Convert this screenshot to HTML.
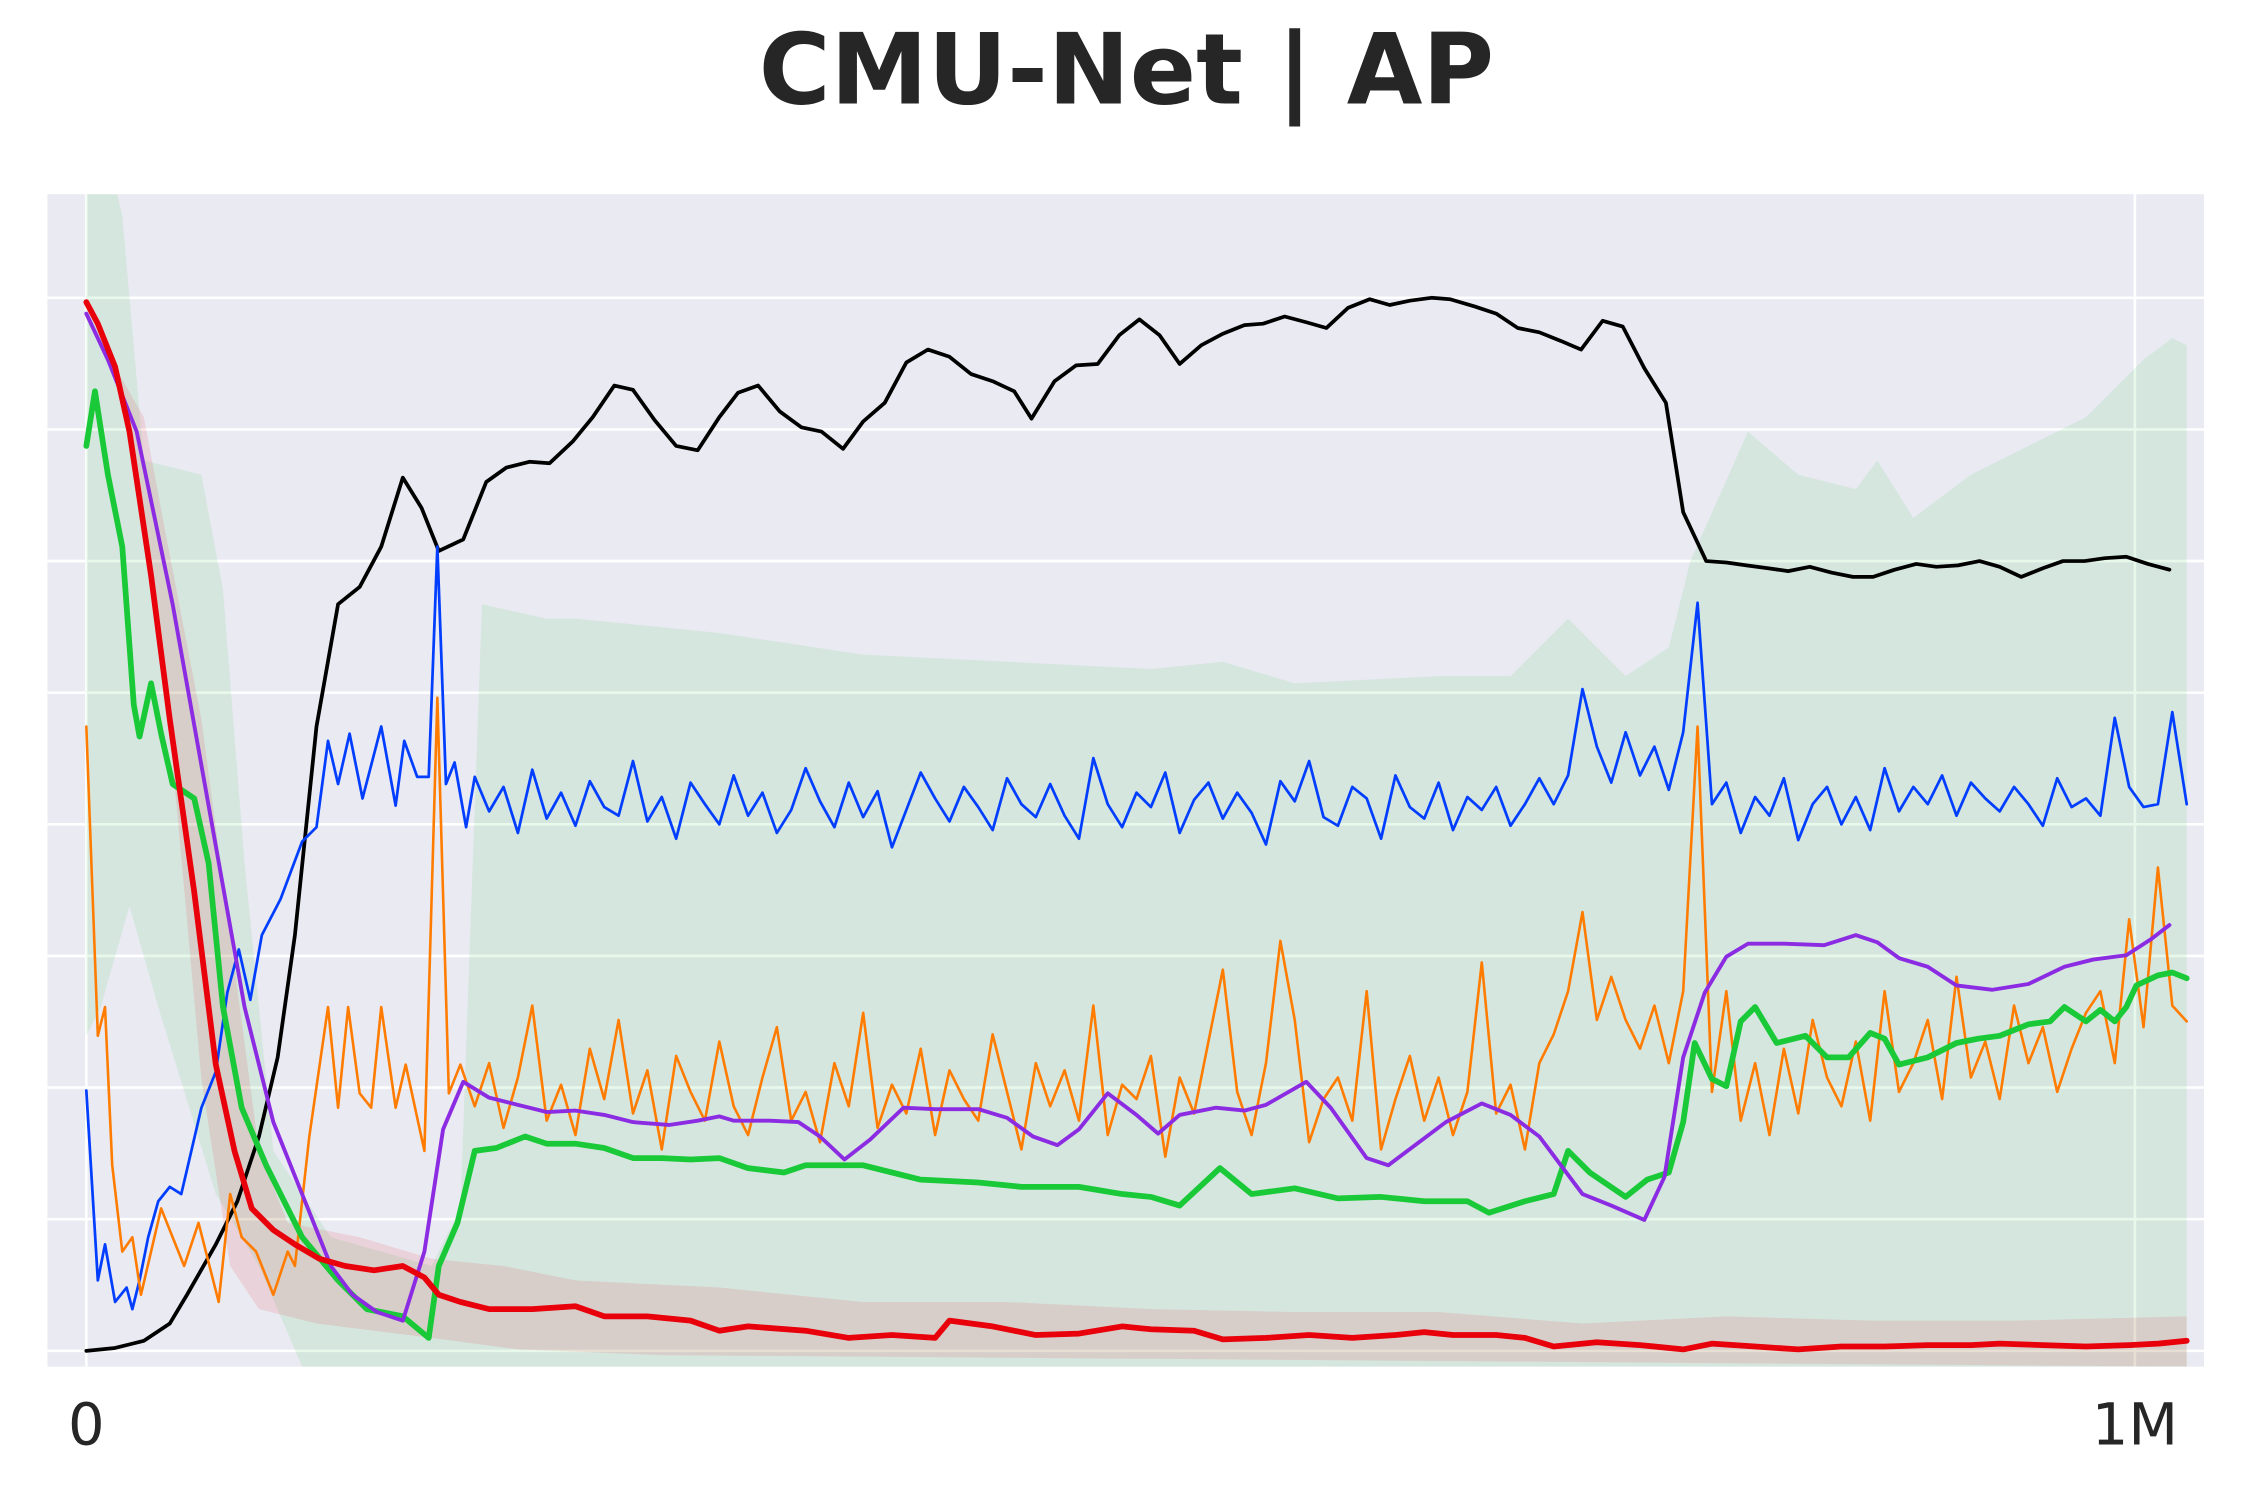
<!DOCTYPE html>
<html><head><meta charset="utf-8">
<style>
html,body{margin:0;padding:0;background:#fff;}
svg{display:block;}
</style></head>
<body>
<svg id="chart" width="2250" height="1500" viewBox="0 0 1564 1042.67" xmlns="http://www.w3.org/2000/svg">
<text x="783" y="72" text-anchor="middle" font-family="'DejaVu Sans','Liberation Sans',sans-serif" font-weight="bold" font-size="68" fill="#262626">CMU-Net | AP</text>
<rect x="33" y="135" width="1499" height="815" fill="#eaeaf2"/>
<defs><clipPath id="clip"><rect x="33" y="135" width="1499" height="815"/></clipPath></defs>
<g id="grid"></g>
<g id="bands" clip-path="url(#clip)"></g>
<g id="lines" clip-path="url(#clip)"></g>
<g id="ticks"></g>
</svg>
<script>
const xTicks = [0, 1424];
const xTickLabels = ["0", "1M"];
const yGrid = [0, 91.5, 183, 274.5, 366, 457.5, 549, 640.5, 732];

const blackX = [0,20,40,58,70,90,105,120,133,145,160,175,190,205,220,233,245,262,278,292,308,322,338,352,367,380,395,410,425,440,453,467,482,497,511,526,540,555,570,585,600,615,630,645,657,673,688,703,718,732,746,760,775,790,805,818,833,848,862,877,892,906,920,935,948,965,980,995,1010,1025,1039,1054,1068,1083,1098,1110,1126,1140,1154,1169,1183,1198,1213,1228,1242,1257,1272,1286,1301,1316,1330,1345,1360,1374,1389,1403,1418,1433,1448];
const blackV = [0,2,7,19,39,74,104,149,204,289,434,519,531,559,607,586,556,564,604,614,618,617,632,649,671,668,647,629,626,649,666,671,653,642,639,627,646,659,687,696,691,679,674,667,648,674,685,686,706,717,706,686,699,707,713,714,719,715,711,725,731,727,730,732,731,726,721,711,708,702,696,716,712,683,659,583,549,548,546,544,542,545,541,538,538,543,547,545,546,549,545,538,544,549,549,551,552,547,543];

const greenX = [0,6,15,25,33,37,45,52,60,75,85,95,108,125,150,175,195,220,238,245,258,270,285,305,320,340,360,380,400,420,440,460,485,500,540,580,620,650,690,720,740,760,788,810,840,870,900,930,960,975,1000,1020,1030,1045,1070,1085,1100,1110,1118,1130,1140,1150,1160,1175,1195,1210,1225,1240,1250,1260,1280,1300,1315,1330,1350,1365,1375,1390,1400,1410,1418,1425,1440,1450,1460];
const greenV = [629,667,609,559,449,427,464,429,394,384,339,239,169,129,79,49,29,24,9,59,89,139,141,149,144,144,141,134,134,133,134,127,124,129,129,119,117,114,114,109,107,101,127,109,113,106,107,104,104,96,104,109,139,124,107,119,124,159,214,189,184,229,239,214,219,204,204,221,217,199,204,214,217,219,227,229,239,229,237,229,239,254,261,263,259];

const redX = [0,8,20,30,45,58,75,90,103,115,130,145,162,180,200,220,235,245,260,280,310,340,360,390,420,440,460,500,530,560,590,600,630,660,690,720,740,770,790,820,850,880,910,930,950,980,1000,1020,1050,1080,1110,1130,1160,1190,1220,1250,1280,1310,1330,1360,1390,1420,1440,1460];
const redV = [729,714,684,639,539,439,319,199,139,99,84,74,64,59,56,59,51,39,34,29,29,31,24,24,21,14,17,14,9,11,9,21,17,11,12,17,15,14,8,9,11,9,11,13,11,11,9,3,6,4,1,5,3,1,3,3,4,4,5,4,3,4,5,7];

const purpleX = [0,15,35,60,85,110,130,150,170,185,202,220,235,248,262,280,300,320,340,360,380,405,425,440,450,475,495,510,527,545,568,590,620,640,658,675,690,710,730,745,760,785,805,820,848,865,890,905,925,945,970,990,1010,1025,1040,1060,1083,1097,1110,1125,1140,1155,1180,1208,1230,1245,1260,1280,1300,1325,1350,1375,1395,1418,1435,1448];
const purpleV = [721,689,639,519,379,239,159,109,59,39,27,21,69,154,187,176,171,166,167,164,159,157,160,163,160,160,159,149,133,147,169,168,168,162,149,143,154,179,164,151,164,169,167,171,187,169,134,129,144,159,172,164,149,129,109,101,91,121,204,249,274,283,283,282,289,284,273,267,254,251,255,267,272,275,286,296];

const blueEarlyX = [0,8,13,20,28,32,37,43,50,58,66,73,80,90,98,106,114,122,135,150,160,168,175,183,192,205,215,221,230,238,244,250,256,264];
const blueEarlyV = [181,49,74,34,44,29,49,79,104,114,109,139,169,194,249,279,244,289,314,354,364,424,394,429,384,434,379,424,399,399,559,394,409,364];
const blueMid = [399,375,392,360,404,370,388,365,396,378,372,410,368,385,356,395,380,366,400,372,
388,360,376,405,382,364,395,371,389,350,376,402,384,368,392,378,362,398,380,371,
394,372,356,412,380,364,388,378,402,360,383,395,370,388,374,352,396,382,410,371,
365,392,384,356,400,378,370,395,362,385,376,392,365,380,398,380,400,460,420,395,
430,400,420,390,430,520,380,395,360,385,372,398,355,380,392,366,385,362,405,375,
392,380,400,372,395,384,375,392,380,365,398,378,384,372,440,392,378,380,444,380];

const orangeEarlyX = [0,8,13,18,25,32,38,45,52,60,68,78,92,100,108,118,130,140,145,155,168,175,182,190,198,205,215,222,235,244,252,260];
const orangeEarlyV = [434,219,239,129,69,79,39,69,99,79,59,89,34,109,79,69,39,69,59,149,239,169,239,179,169,239,169,199,139,454,179,199];
const orangeMid = [170,200,155,190,240,160,185,150,210,175,230,165,195,140,205,180,160,215,170,150,
190,225,160,180,145,200,170,235,155,185,165,210,150,195,175,160,220,180,140,200,
170,195,160,240,150,185,175,205,135,190,165,215,265,180,150,200,285,230,145,175,
190,160,250,140,175,205,160,190,150,180,270,165,185,140,200,220,250,305,230,260,
230,210,240,200,250,434,180,250,160,200,150,210,165,230,190,170,215,160,250,180,
200,230,175,260,190,215,175,240,200,225,180,210,235,250,200,300,225,336,240,229];
const midStart = 270, midEnd = 1460;

const greenBandUpX = [0,20,25,40,80,95,110,130,170,240,260,275,320,340,440,540,640,740,790,840,940,990,1030,1070,1100,1115,1155,1190,1230,1245,1270,1310,1370,1390,1430,1450,1460];
const greenBandUpV = [810,810,789,619,609,529,339,139,79,59,99,519,509,509,499,484,479,474,479,464,469,469,509,469,489,549,639,609,599,619,579,609,639,649,689,704,699];
const greenBandLoX = [0,10,30,50,90,120,150,1460];
const greenBandLoV = [219,239,309,239,109,59,-11,-11];
const redBandUpX = [0,20,40,55,80,100,120,140,190,240,290,340,440,540,640,740,840,940,1040,1140,1240,1340,1460];
const redBandUpV = [729,684,649,569,439,289,139,89,79,64,59,49,44,34,34,29,27,27,19,24,21,21,24];
const redBandLoX = [0,20,40,60,80,100,120,160,240,300,400,1460];
const redBandLoV = [729,684,579,409,189,59,29,19,9,1,-3,-11];

const X0 = 60, Y0 = 939;
function xs(v){ return X0 + v; }
function ys(v){ return Y0 - v; }
const NS = "http://www.w3.org/2000/svg";

const grid = document.getElementById('grid');
yGrid.forEach(function(g){
  const l = document.createElementNS(NS,'line');
  
  
  l.setAttribute('x1',33); l.setAttribute('x2',1532);
  l.setAttribute('y1',ys(g)); l.setAttribute('y2',ys(g));
  l.setAttribute('stroke','#fff'); l.setAttribute('stroke-width',1.8);
  grid.appendChild(l);
});
const ticksG = document.getElementById('ticks');
xTicks.forEach(function(t,i){
  const l = document.createElementNS(NS,'line');
  
  
  l.setAttribute('x1',xs(t)); l.setAttribute('x2',xs(t));
  l.setAttribute('y1',135); l.setAttribute('y2',950);
  l.setAttribute('stroke','#fff'); l.setAttribute('stroke-width',1.8);
  grid.appendChild(l);
  const tx = document.createElementNS(NS,'text');
  
  
  tx.setAttribute('x',xs(t)); tx.setAttribute('y',1004);
  tx.setAttribute('text-anchor','middle');
  tx.setAttribute('font-family',"'DejaVu Sans','Liberation Sans',sans-serif");
  tx.setAttribute('font-size',40);
  tx.setAttribute('fill','#262626');
  tx.textContent = xTickLabels[i];
  ticksG.appendChild(tx);
});

function pathD(xa, va){
  let d = '';
  for (let i=0;i<xa.length;i++){ d += (i?'L':'M') + xs(xa[i]).toFixed(2) + ',' + ys(va[i]).toFixed(2); }
  return d;
}
function midX(arr){
  const out=[]; for(let i=0;i<arr.length;i++){ out.push(midStart + (midEnd-midStart)*i/(arr.length-1)); } return out;
}
const bands = document.getElementById('bands');
function band(name, ux, uv, lx, lv, fill){
  let d = pathD(ux, uv);
  for (let i=lx.length-1;i>=0;i--){ d += 'L' + xs(lx[i]).toFixed(2) + ',' + ys(lv[i]).toFixed(2); }
  d += 'Z';
  const p = document.createElementNS(NS,'path');
  
  
  p.setAttribute('d', d); p.setAttribute('fill', fill);
  bands.appendChild(p);
}
band('green-band', greenBandUpX, greenBandUpV, greenBandLoX, greenBandLoV, 'rgba(26,201,56,0.1)');
band('red-band', redBandUpX, redBandUpV, redBandLoX, redBandLoV, 'rgba(232,0,11,0.1)');

const lines = document.getElementById('lines');
function line(name, xa, va, color, w){
  const p = document.createElementNS(NS,'path');
  
  
  p.setAttribute('d', pathD(xa, va));
  p.setAttribute('fill','none'); p.setAttribute('stroke',color);
  p.setAttribute('stroke-width',w); p.setAttribute('stroke-linejoin','round'); p.setAttribute('stroke-linecap','round');
  lines.appendChild(p);
}
line('black-series', blackX, blackV, '#000000', 2.6);
line('blue-series', blueEarlyX.concat(midX(blueMid)), blueEarlyV.concat(blueMid), '#023eff', 1.9);
line('orange-series', orangeEarlyX.concat(midX(orangeMid)), orangeEarlyV.concat(orangeMid), '#ff7c00', 1.8);
line('green-series', greenX, greenV, '#1ac938', 4);
line('purple-series', purpleX, purpleV, '#8b2be2', 2.7);
line('red-series', redX, redV, '#e8000b', 4);
</script>
</body></html>
